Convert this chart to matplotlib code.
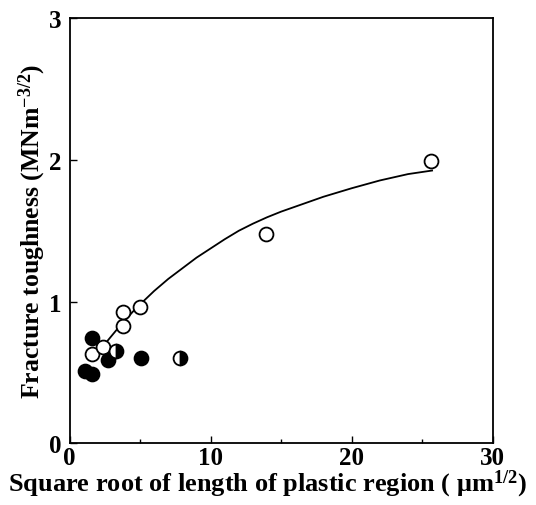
import matplotlib
matplotlib.use("Agg")
import matplotlib.pyplot as plt
from matplotlib.ticker import MultipleLocator

plt.rcParams['font.family'] = ['Liberation Serif', 'DejaVu Serif']
plt.rcParams['mathtext.fontset'] = 'custom'
plt.rcParams['mathtext.rm'] = 'Liberation Serif:bold'
plt.rcParams['mathtext.it'] = 'Liberation Serif:bold'
plt.rcParams['mathtext.bf'] = 'Liberation Serif:bold'

open_x = [1.6, 2.4, 3.8, 3.8, 5.0, 13.9, 25.6]
open_y = [0.63, 0.68, 0.83, 0.93, 0.96, 1.48, 1.99]
filled_x = [1.6, 1.1, 1.6, 2.7, 5.1]
filled_y = [0.74, 0.51, 0.49, 0.59, 0.60]
half_x = [3.3, 7.8]
half_y = [0.65, 0.60]
curve_x = [1.8, 2.5, 3, 3.5, 4, 4.5, 5, 6, 7, 8, 9, 10, 11, 12, 13, 14, 15, 16, 18, 20, 22, 24, 25.7]
curve_y = [0.62, 0.70, 0.76, 0.82, 0.875, 0.93, 0.98, 1.075, 1.16, 1.235, 1.31, 1.375, 1.44, 1.50,
           1.55, 1.595, 1.635, 1.67, 1.74, 1.80, 1.855, 1.90, 1.925]

fig = plt.figure(figsize=(5.36, 5.06), dpi=100)
ax = fig.add_axes([0.1297, 0.122, 0.7896, 0.84])

ax.plot(curve_x, curve_y, color='black', lw=1.3, zorder=2)
ax.plot(open_x, open_y, 'o', ms=10, mfc='white', mec='black', mew=1.3, zorder=3)
ax.plot(filled_x, filled_y, 'o', ms=10, mfc='black', mec='black', mew=1.3, zorder=3)
ax.plot(half_x, half_y, 'o', ms=10, fillstyle='right', mfc='black', mfcalt='white',
        mec='black', mew=1.3, zorder=3)

ax.set_xlim(0, 30)
ax.set_ylim(0, 3)
ax.xaxis.set_major_locator(MultipleLocator(10))
ax.xaxis.set_minor_locator(MultipleLocator(5))
ax.yaxis.set_major_locator(MultipleLocator(1))
ax.tick_params(which='both', direction='in', labelsize=18, width=1)
ax.tick_params(which='major', length=5)
ax.tick_params(which='minor', length=3)
ax.tick_params(axis='x', which='major', pad=2)
ax.tick_params(axis='y', which='major', pad=6)
for lab in ax.get_xticklabels() + ax.get_yticklabels():
    lab.set_fontweight('bold')
for s in ax.spines.values():
    s.set_linewidth(1.3)

ax.set_xlabel(r'Square root of length of plastic region ( $\mu$m$^{1/2}$)', fontsize=19,
              fontweight='bold')
ax.xaxis.set_label_coords(0.468, -0.058)
ax.set_ylabel(r'Fracture toughness (MNm$^{-3/2}$)', fontsize=18.5, fontweight='bold')
ax.yaxis.set_label_coords(-0.05, 0.5)

fig.savefig('out.png', dpi=100)
